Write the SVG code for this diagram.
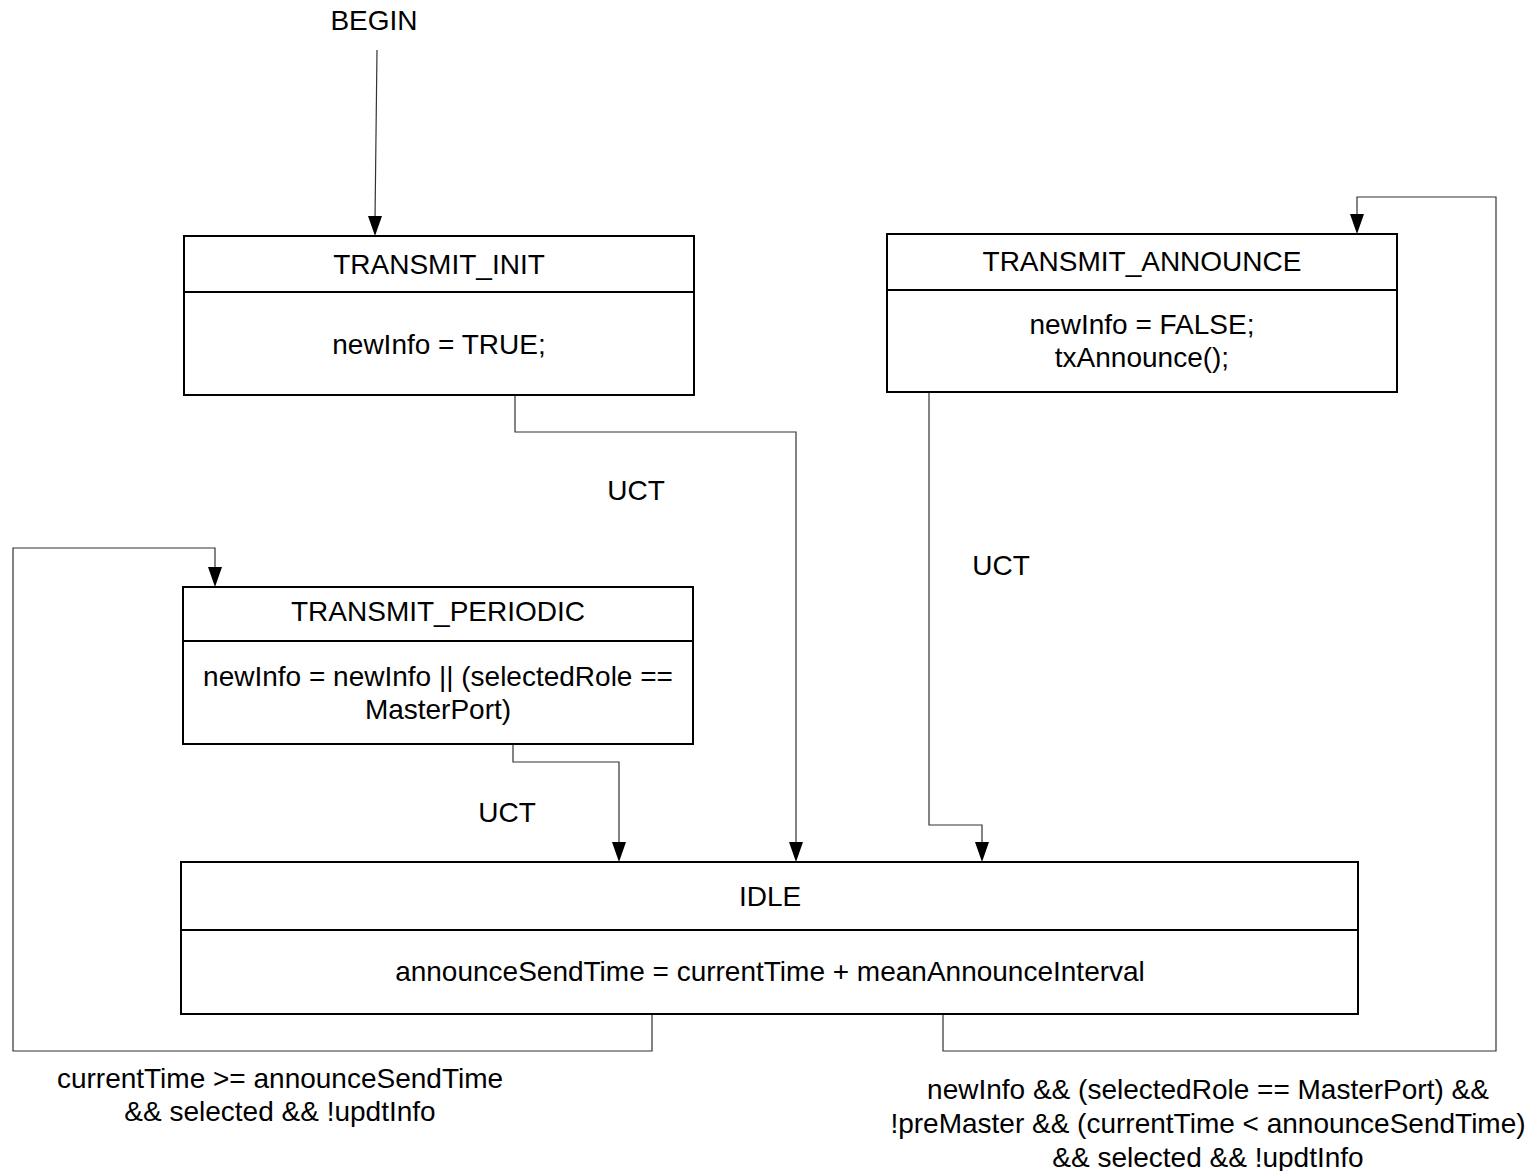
<svg xmlns="http://www.w3.org/2000/svg" width="1535" height="1171" viewBox="0 0 1535 1171">
<style>
.box{fill:#fff;stroke:#000;stroke-width:2}
.div{stroke:#000;stroke-width:2}
.t{font-family:"Liberation Sans",Arial,sans-serif;font-size:28px;fill:#000;text-anchor:middle}
.c{fill:none;stroke:#333;stroke-width:1.2}
.ah{fill:#000}
</style>
<rect width="1535" height="1171" fill="#fff"/>
<g id="connectors">
<path class="c" d="M377,50 L375,220"/>
<path class="c" d="M515,395 V432 H796 V846"/>
<path class="c" d="M929,392 V825 H982 V846"/>
<path class="c" d="M513,744 V762 H619 V846"/>
<path class="c" d="M652,1014 V1051 H13 V548 H215 V571"/>
<path class="c" d="M943,1014 V1051 H1496 V197 H1357 V218"/>
<path class="ah" d="M368,216 L382,216 L375,236 Z"/>
<path class="ah" d="M789,842 L803,842 L796,862 Z"/>
<path class="ah" d="M975,842 L989,842 L982,862 Z"/>
<path class="ah" d="M612,842 L626,842 L619,862 Z"/>
<path class="ah" d="M208,567 L222,567 L215,587 Z"/>
<path class="ah" d="M1350,214 L1364,214 L1357,234 Z"/>
</g>
<g id="labels">
<text class="t" x="374" y="30">BEGIN</text>
<text class="t" x="636" y="500">UCT</text>
<text class="t" x="1001" y="575">UCT</text>
<text class="t" x="507" y="822">UCT</text>
<text class="t" x="280" y="1088">currentTime &gt;= announceSendTime</text>
<text class="t" x="280" y="1121">&amp;&amp; selected &amp;&amp; !updtInfo</text>
<text class="t" x="1208" y="1099">newInfo &amp;&amp; (selectedRole == MasterPort) &amp;&amp;</text>
<text class="t" x="1208" y="1133">!preMaster &amp;&amp; (currentTime &lt; announceSendTime)</text>
<text class="t" x="1208" y="1167">&amp;&amp; selected &amp;&amp; !updtInfo</text>
</g>
<g id="TRANSMIT_INIT">
<rect class="box" x="184" y="236" width="510" height="159"/>
<line class="div" x1="184" y1="292" x2="694" y2="292"/>
<text class="t" x="439" y="274">TRANSMIT_INIT</text>
<text class="t" x="439" y="354">newInfo = TRUE;</text>
</g>
<g id="TRANSMIT_ANNOUNCE">
<rect class="box" x="887" y="234" width="510" height="158"/>
<line class="div" x1="887" y1="290" x2="1397" y2="290"/>
<text class="t" x="1142" y="271">TRANSMIT_ANNOUNCE</text>
<text class="t" x="1142" y="334">newInfo = FALSE;</text>
<text class="t" x="1142" y="367">txAnnounce();</text>
</g>
<g id="TRANSMIT_PERIODIC">
<rect class="box" x="183" y="587" width="510" height="157"/>
<line class="div" x1="183" y1="641" x2="693" y2="641"/>
<text class="t" x="438" y="621">TRANSMIT_PERIODIC</text>
<text class="t" x="438" y="686">newInfo = newInfo || (selectedRole ==</text>
<text class="t" x="438" y="719">MasterPort)</text>
</g>
<g id="IDLE">
<rect class="box" x="181" y="862" width="1177" height="152"/>
<line class="div" x1="181" y1="930" x2="1358" y2="930"/>
<text class="t" x="770" y="906">IDLE</text>
<text class="t" x="770" y="981">announceSendTime = currentTime + meanAnnounceInterval</text>
</g>
</svg>
